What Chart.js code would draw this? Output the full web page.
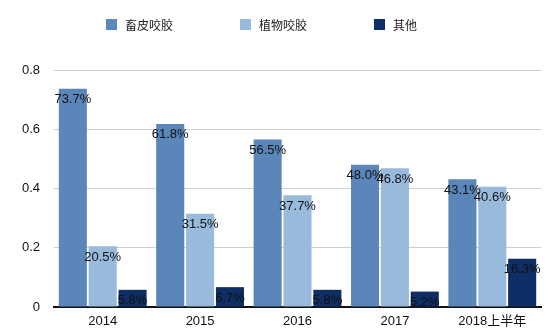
<!DOCTYPE html>
<html>
<head>
<meta charset="utf-8">
<script src="https://cdn.jsdelivr.net/npm/chart.js@4/dist/chart.umd.min.js"></script>
<style>
  body { margin: 0; background: #fff; }
  .wrap { position: relative; width: 556px; height: 335px; }
  .legend { position: absolute; left: 106px; top: 16px; display: flex; font: 12px "Noto Sans CJK SC", sans-serif; color: #222; }
  .legend .item { display: flex; align-items: center; width: 134px; height: 16px; }
  .legend .box { width: 11px; height: 11px; margin-right: 8px; }
</style>
</head>
<body>
<div class="wrap">
  <div class="legend" id="legend"></div>
  <canvas id="chart" width="556" height="335"></canvas>
</div>
<script>
// market share by chew type, per year
const years = ['2014', '2015', '2016', '2017', '2018上半年'];
const seriesNames = ['畜皮咬胶', '植物咬胶', '其他'];
const rawhide = [0.737, 0.618, 0.565, 0.480, 0.431];
const plant = [0.205, 0.315, 0.377, 0.468, 0.406];
const other = [0.058, 0.067, 0.058, 0.052, 0.163];
const yTicks = [0, 0.2, 0.4, 0.6, 0.8];

const colors = ['#5b86b9', '#98badd', '#0d2f65'];
const series = [rawhide, plant, other];

// legend built as plain html so the spacing can be fixed
const legendEl = document.getElementById('legend');
seriesNames.forEach((name, i) => {
  const item = document.createElement('div');
  item.className = 'item';
  item.innerHTML = '<span class="box" style="background:' + colors[i] + '"></span><span>' + name + '</span>';
  legendEl.appendChild(item);
});

// percent label inside the top of each bar
const barLabels = {
  id: 'barLabels',
  afterDatasetsDraw(chart) {
    const ctx = chart.ctx;
    ctx.save();
    ctx.font = '13px "Liberation Sans", Arial, sans-serif';
    ctx.fillStyle = '#111';
    ctx.textAlign = 'center';
    ctx.textBaseline = 'middle';
    chart.data.datasets.forEach((ds, di) => {
      chart.getDatasetMeta(di).data.forEach((bar, i) => {
        const txt = (ds.data[i] * 100).toFixed(1) + '%';
        ctx.fillText(txt, bar.x, bar.y + 11);
      });
    });
    ctx.restore();
  }
};

new Chart(document.getElementById('chart'), {
  type: 'bar',
  data: {
    labels: years,
    datasets: series.map((d, i) => ({
      label: seriesNames[i],
      data: d,
      backgroundColor: colors[i],
      categoryPercentage: 0.92,
      barPercentage: 0.94
    }))
  },
  options: {
    responsive: false,
    animation: false,
    layout: { padding: { top: 70, left: 22, right: 15, bottom: 0 } },
    plugins: {
      legend: { display: false },
      tooltip: { enabled: false }
    },
    scales: {
      x: {
        afterFit: axis => { axis.height = 28; axis.paddingLeft = 0; axis.paddingRight = 0; },
        grid: { display: false, drawTicks: false },
        border: { color: '#111', width: 2 },
        ticks: {
          padding: 7,
          maxRotation: 0,
          color: '#111',
          font: { size: 13, family: '"Liberation Sans", "Noto Sans CJK SC", sans-serif' }
        }
      },
      y: {
        min: 0,
        max: 0.8,
        afterBuildTicks: axis => { axis.ticks = yTicks.map(v => ({ value: v })); },
        afterFit: axis => { axis.width = 32; },
        grid: { color: '#cfcfcf', lineWidth: 1, drawTicks: false },
        border: { display: false },
        ticks: {
          padding: 14,
          color: '#111',
          font: { size: 13, family: '"Liberation Sans", Arial, sans-serif' }
        }
      }
    }
  },
  plugins: [barLabels]
});
</script>
</body>
</html>
